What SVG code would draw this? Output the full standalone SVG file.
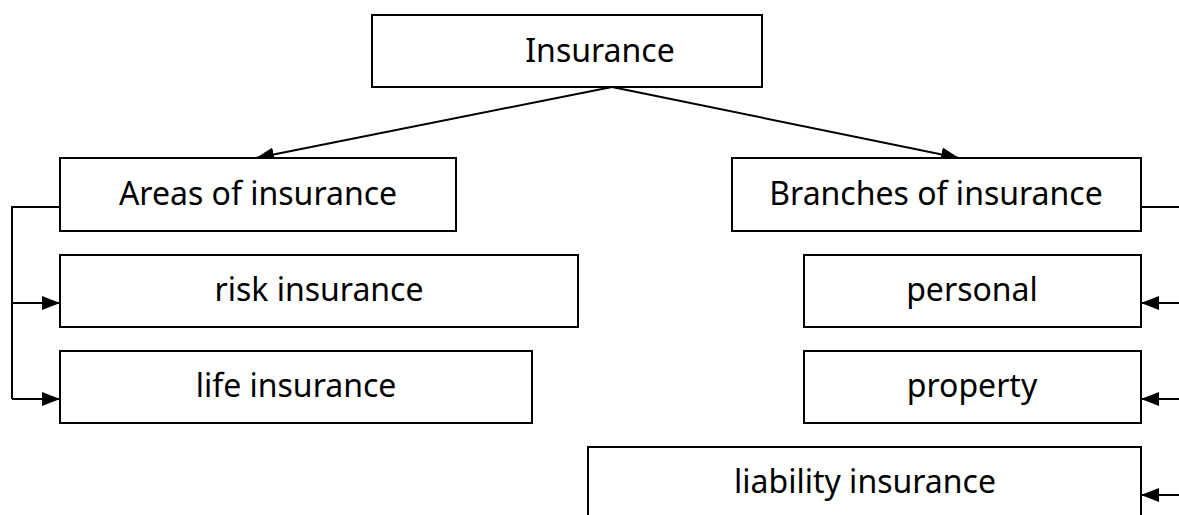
<svg xmlns="http://www.w3.org/2000/svg" width="1179" height="515" viewBox="0 0 1179 515">
<style>
.box{fill:#fff;stroke:#000;stroke-width:2}
.t{font-family:"Noto Sans","Open Sans",sans-serif;font-size:32px;fill:#000;text-anchor:middle}
.c{fill:none;stroke:#000;stroke-width:2}
</style>
<defs>
<marker id="ah" viewBox="0 0 18 14" refX="18" refY="7" markerWidth="18" markerHeight="14" markerUnits="userSpaceOnUse" orient="auto">
<path d="M0,0 L18,7 L0,14 Z" fill="#000"/>
</marker>
</defs>
<rect width="1179" height="515" fill="#fff"/>
<g id="connectors">
<line class="c" x1="612" y1="87" x2="256" y2="158" marker-end="url(#ah)"/>
<line class="c" x1="612" y1="87" x2="959" y2="158" marker-end="url(#ah)"/>
<polyline class="c" points="60,207 12,207 12,399"/>
<line class="c" x1="12" y1="303" x2="60" y2="303" marker-end="url(#ah)"/>
<line class="c" x1="12" y1="399" x2="60" y2="399" marker-end="url(#ah)"/>
<line class="c" x1="1141" y1="207" x2="1181" y2="207"/>
<line class="c" x1="1181" y1="303" x2="1141" y2="303" marker-end="url(#ah)"/>
<line class="c" x1="1181" y1="399" x2="1141" y2="399" marker-end="url(#ah)"/>
<line class="c" x1="1181" y1="495" x2="1141" y2="495" marker-end="url(#ah)"/>
</g>
<g id="insurance"><rect class="box" x="372" y="15" width="390" height="72"/><text class="t" x="600" y="62">Insurance</text></g>
<g id="areas"><rect class="box" x="60" y="158" width="396" height="73"/><text class="t" x="258" y="205">Areas of insurance</text></g>
<g id="branches"><rect class="box" x="732" y="158" width="409" height="73"/><text class="t" x="936" y="205">Branches of insurance</text></g>
<g id="risk"><rect class="box" x="60" y="255" width="518" height="72"/><text class="t" x="319" y="301">risk insurance</text></g>
<g id="life"><rect class="box" x="60" y="351" width="472" height="72"/><text class="t" x="296" y="397">life insurance</text></g>
<g id="personal"><rect class="box" x="804" y="255" width="337" height="72"/><text class="t" x="972" y="301">personal</text></g>
<g id="property"><rect class="box" x="804" y="351" width="337" height="72"/><text class="t" x="972" y="397">property</text></g>
<g id="liability"><rect class="box" x="588" y="447" width="553" height="90"/><text class="t" x="865" y="493">liability insurance</text></g>
</svg>
